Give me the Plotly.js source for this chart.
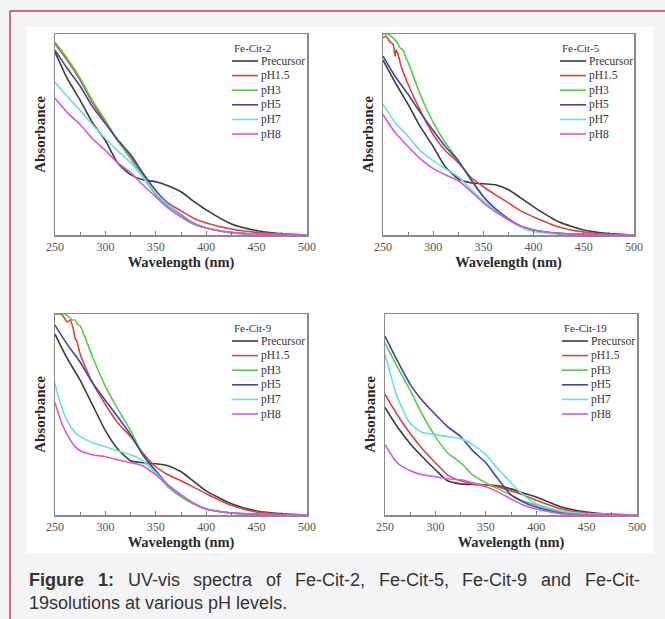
<!DOCTYPE html>
<html>
<head>
<meta charset="utf-8">
<script src="https://cdn.plot.ly/plotly-3.0.1.min.js"></script>
<style>html,body{margin:0;padding:0;background:#f4f3f5;}#chart{width:665px;height:619px;}</style>
</head>
<body>
<div id="chart"></div>
<script>
// ---------- DATA ----------
const seriesNames = ["Precursor", "pH1.5", "pH3", "pH5", "pH7", "pH8"];
const panelTitles = ["Fe-Cit-2", "Fe-Cit-5", "Fe-Cit-9", "Fe-Cit-19"];
const xTicks = [250, 300, 350, 400, 450, 500];
const wl = [250, 262, 275, 287, 300, 312, 325, 337, 350, 362, 375, 387, 400, 425, 450, 475, 500];

// Fe-Cit-2
const fc2_precursor = [0.91, 0.78, 0.67, 0.56, 0.47, 0.36, 0.30, 0.275, 0.265, 0.245, 0.215, 0.17, 0.125, 0.055, 0.022, 0.006, 0];
const fc2_ph15 = [0.95, 0.87, 0.77, 0.66, 0.56, 0.47, 0.39, 0.30, 0.22, 0.16, 0.12, 0.085, 0.06, 0.03, 0.013, 0.004, 0];
const fc2_ph3 = [0.96, 0.88, 0.78, 0.67, 0.57, 0.47, 0.38, 0.29, 0.20, 0.14, 0.09, 0.055, 0.035, 0.012, 0.005, 0.002, 0];
const fc2_ph5 = [0.92, 0.83, 0.74, 0.64, 0.555, 0.475, 0.40, 0.31, 0.22, 0.15, 0.10, 0.06, 0.035, 0.012, 0.004, 0.001, 0];
const fc2_ph7 = [0.76, 0.69, 0.62, 0.55, 0.48, 0.42, 0.36, 0.29, 0.21, 0.15, 0.095, 0.06, 0.035, 0.012, 0.004, 0.001, 0];
const fc2_ph8 = [0.68, 0.61, 0.55, 0.48, 0.42, 0.36, 0.31, 0.25, 0.19, 0.135, 0.09, 0.06, 0.035, 0.013, 0.005, 0.002, 0];

// Fe-Cit-5
const fc5_precursor = [0.87, 0.76, 0.65, 0.54, 0.44, 0.34, 0.28, 0.26, 0.255, 0.25, 0.225, 0.185, 0.14, 0.066, 0.025, 0.007, 0];
const fc5_ph15_x = [250, 253, 257, 260, 262, 263, 265, 268, 275, 287, 300, 312, 325, 337, 350, 362, 375, 387, 400, 425, 450, 475, 500];
const fc5_ph15 = [0.98, 0.99, 0.96, 0.95, 0.89, 0.92, 0.90, 0.84, 0.75, 0.62, 0.50, 0.42, 0.36, 0.29, 0.24, 0.20, 0.16, 0.12, 0.09, 0.04, 0.015, 0.004, 0];
const fc5_ph3_x = [250, 255, 258, 262, 265, 267, 270, 273, 275, 287, 300, 312, 325, 337, 350, 362, 375, 387, 400, 425, 450, 475, 500];
const fc5_ph3 = [1.0, 1.0, 0.99, 0.97, 0.95, 0.93, 0.92, 0.88, 0.86, 0.70, 0.56, 0.46, 0.37, 0.28, 0.19, 0.13, 0.08, 0.045, 0.025, 0.008, 0.003, 0.001, 0];
const fc5_ph5 = [0.89, 0.79, 0.70, 0.61, 0.52, 0.44, 0.37, 0.28, 0.19, 0.13, 0.08, 0.045, 0.025, 0.008, 0.003, 0.001, 0];
const fc5_ph7 = [0.65, 0.56, 0.49, 0.42, 0.37, 0.33, 0.29, 0.23, 0.17, 0.12, 0.075, 0.04, 0.016, 0.005, 0.002, 0.001, 0];
const fc5_ph8 = [0.60, 0.51, 0.44, 0.38, 0.33, 0.30, 0.27, 0.22, 0.16, 0.115, 0.075, 0.045, 0.025, 0.008, 0.003, 0.001, 0];

// Fe-Cit-9
const fc9_precursor = [0.90, 0.78, 0.67, 0.55, 0.42, 0.33, 0.27, 0.26, 0.255, 0.245, 0.215, 0.17, 0.12, 0.056, 0.02, 0.006, 0];
const fc9_ph15_x = [250, 255, 258, 262, 265, 268, 270, 272, 275, 287, 300, 312, 325, 337, 350, 362, 375, 387, 400, 425, 450, 475, 500];
const fc9_ph15 = [1.0, 1.0, 0.99, 0.96, 0.97, 0.93, 0.88, 0.86, 0.80, 0.66, 0.55, 0.46, 0.39, 0.31, 0.24, 0.20, 0.17, 0.14, 0.106, 0.048, 0.015, 0.004, 0];
const fc9_ph3_x = [250, 260, 265, 267, 270, 272, 275, 287, 300, 312, 325, 337, 350, 362, 375, 387, 400, 425, 450, 475, 500];
const fc9_ph3 = [1.0, 1.0, 0.98, 0.97, 0.97, 0.95, 0.94, 0.79, 0.64, 0.53, 0.42, 0.30, 0.21, 0.14, 0.09, 0.056, 0.03, 0.01, 0.004, 0.001, 0];
const fc9_ph5 = [0.945, 0.85, 0.76, 0.66, 0.57, 0.49, 0.40, 0.30, 0.22, 0.15, 0.10, 0.06, 0.03, 0.01, 0.004, 0.001, 0];
const fc9_ph7_x = [250, 255, 262, 270, 275, 287, 300, 312, 325, 337, 350, 362, 375, 387, 400, 425, 450, 475, 500];
const fc9_ph7 = [0.655, 0.56, 0.47, 0.41, 0.39, 0.36, 0.34, 0.32, 0.30, 0.27, 0.21, 0.15, 0.10, 0.06, 0.03, 0.01, 0.003, 0.001, 0];
const fc9_ph8_x = [250, 255, 262, 270, 275, 287, 300, 312, 325, 337, 350, 362, 375, 387, 400, 425, 450, 475, 500];
const fc9_ph8 = [0.56, 0.48, 0.40, 0.34, 0.32, 0.30, 0.29, 0.275, 0.26, 0.245, 0.20, 0.15, 0.10, 0.06, 0.03, 0.01, 0.003, 0.001, 0];

// Fe-Cit-19
const fc19_precursor = [0.535, 0.44, 0.355, 0.29, 0.225, 0.17, 0.155, 0.152, 0.15, 0.145, 0.13, 0.11, 0.09, 0.04, 0.015, 0.004, 0];
const fc19_ph15 = [0.60, 0.50, 0.405, 0.33, 0.26, 0.20, 0.17, 0.155, 0.15, 0.14, 0.12, 0.10, 0.073, 0.03, 0.01, 0.003, 0];
const fc19_ph3 = [0.855, 0.74, 0.62, 0.50, 0.39, 0.31, 0.26, 0.20, 0.16, 0.13, 0.10, 0.07, 0.05, 0.015, 0.005, 0.001, 0];
const fc19_ph5 = [0.89, 0.77, 0.65, 0.57, 0.50, 0.44, 0.39, 0.32, 0.26, 0.18, 0.10, 0.065, 0.04, 0.01, 0.004, 0.001, 0];
const fc19_ph7 = [0.80, 0.59, 0.455, 0.41, 0.40, 0.39, 0.38, 0.35, 0.30, 0.23, 0.16, 0.10, 0.056, 0.02, 0.006, 0.002, 0];
const fc19_ph8 = [0.35, 0.26, 0.22, 0.20, 0.19, 0.18, 0.175, 0.16, 0.14, 0.115, 0.08, 0.05, 0.03, 0.007, 0.002, 0.001, 0];

const captionLine1 = "Figure 1: UV-vis spectra of Fe-Cit-2, Fe-Cit-5, Fe-Cit-9 and Fe-Cit-";
const captionLine2 = "19solutions at various pH levels.";

// ---------- STYLE / LAYOUT ----------
const colors = ["#3c3c3c", "#d8453f", "#58cc48", "#4343a8", "#68e0e2", "#d45ad6"];
const W = 665, H = 619;
const panels = [
  {xs: [wl, wl, wl, wl, wl, wl], ys: [fc2_precursor, fc2_ph15, fc2_ph3, fc2_ph5, fc2_ph7, fc2_ph8], px: [55, 307], py: [34, 235]},
  {xs: [wl, fc5_ph15_x, fc5_ph3_x, wl, wl, wl], ys: [fc5_precursor, fc5_ph15, fc5_ph3, fc5_ph5, fc5_ph7, fc5_ph8], px: [383, 634], py: [34, 235]},
  {xs: [wl, fc9_ph15_x, fc9_ph3_x, wl, fc9_ph7_x, fc9_ph8_x], ys: [fc9_precursor, fc9_ph15, fc9_ph3, fc9_ph5, fc9_ph7, fc9_ph8], px: [55, 307], py: [314, 515]},
  {xs: [wl, wl, wl, wl, wl, wl], ys: [fc19_precursor, fc19_ph15, fc19_ph3, fc19_ph5, fc19_ph7, fc19_ph8], px: [385, 637], py: [314, 515]}
];

const serif = "Liberation Serif, Times New Roman, serif";
const sans = "Liberation Sans, Arial, sans-serif";
const fx = p => p / W;
const fy = p => 1 - p / H;

const traces = [];
const layout = {
  width: W, height: H,
  margin: {l: 0, r: 0, t: 0, b: 0},
  paper_bgcolor: "#f4f3f5",
  plot_bgcolor: "rgba(0,0,0,0)",
  showlegend: false,
  shapes: [
    {type: "rect", xref: "paper", yref: "paper", x0: fx(27), x1: fx(653), y0: fy(553), y1: fy(27), fillcolor: "#ffffff", line: {width: 0}, layer: "below"},
    {type: "line", xref: "paper", yref: "paper", x0: fx(10), x1: 1, y0: fy(11), y1: fy(11), line: {color: "#c2365e", width: 1.5}},
    {type: "line", xref: "paper", yref: "paper", x0: fx(10), x1: fx(10), y0: fy(11), y1: 0, line: {color: "#c2365e", width: 1.5}}
  ],
  annotations: []
};

panels.forEach((p, i) => {
  const n = i + 1;
  const xa = n === 1 ? "x" : "x" + n;
  const ya = n === 1 ? "y" : "y" + n;
  const xk = n === 1 ? "xaxis" : "xaxis" + n;
  const yk = n === 1 ? "yaxis" : "yaxis" + n;
  for (let s = 0; s < seriesNames.length; s++) {
    traces.push({
      type: "scatter", mode: "lines", name: seriesNames[s],
      x: p.xs[s], y: p.ys[s], xaxis: xa, yaxis: ya,
      line: {color: colors[s], width: 1.6, shape: "spline", smoothing: 0.6},
      hoverinfo: "skip"
    });
  }
  layout[xk] = {
    domain: [fx(p.px[0]), fx(p.px[1])], anchor: ya, range: [250, 500],
    tickvals: xTicks, ticktext: xTicks.map(String),
    ticks: "inside", ticklen: 4, tickwidth: 1, tickcolor: "#777",
    minor: {dtick: 25, tick0: 275, ticks: "inside", ticklen: 3, tickcolor: "#777", showgrid: false},
    showgrid: false, zeroline: false, showline: true, mirror: true, linecolor: "#8a8a8a", linewidth: 1.5,
    tickfont: {family: serif, size: 12, color: "#555"},
    title: {text: "<b>Wavelength (nm)</b>", font: {family: serif, size: 14.5, color: "#2a2a2a"}, standoff: 2}
  };
  layout[yk] = {
    domain: [fy(p.py[1]), fy(p.py[0])], anchor: xa, range: [0, 1],
    showticklabels: false, ticks: "", showgrid: false, zeroline: false,
    showline: true, mirror: true, linecolor: "#8a8a8a", linewidth: 1.5,
    title: {text: "<b>Absorbance</b>", font: {family: serif, size: 15, color: "#2a2a2a"}, standoff: 4}
  };
  // manual legend
  const lx = p.px[0] + 177;
  const ly0 = p.py[0] + 14;
  layout.annotations.push({xref: "paper", yref: "paper", x: fx(lx), y: fy(ly0), xanchor: "left", yanchor: "middle",
    text: panelTitles[i], showarrow: false, font: {family: serif, size: 11, color: "#333"}});
  for (let s = 0; s < seriesNames.length; s++) {
    const yy = ly0 + 13 + s * 14.6;
    layout.shapes.push({type: "line", xref: "paper", yref: "paper", x0: fx(lx), x1: fx(lx + 26), y0: fy(yy), y1: fy(yy), line: {color: colors[s], width: 1.6}});
    layout.annotations.push({xref: "paper", yref: "paper", x: fx(lx + 27), y: fy(yy), xanchor: "left", yanchor: "middle",
      text: seriesNames[s], showarrow: false, font: {family: serif, size: 11.5, color: "#333"}});
  }
});

// caption, justified first line
const capSize = 18;
const ctx = document.createElement("canvas").getContext("2d");
function tw(t, bold) { ctx.font = (bold ? "bold " : "") + capSize + "px 'Liberation Sans'"; return ctx.measureText(t).width; }
const words = captionLine1.split(" ");
const boldCount = 2;
const widths = words.map((w, k) => tw(w, k < boldCount));
const left = 27, right = 638;
const gap = (right - left - widths.reduce((a, b) => a + b, 0)) / (words.length - 1);
let cx = left;
words.forEach((w, k) => {
  layout.annotations.push({xref: "paper", yref: "paper", x: fx(cx), y: fy(580), xanchor: "left", yanchor: "middle",
    text: k < boldCount ? "<b>" + w + "</b>" : w, showarrow: false, font: {family: sans, size: capSize, color: "#333"}});
  cx += widths[k] + gap;
});
layout.annotations.push({xref: "paper", yref: "paper", x: fx(left), y: fy(603), xanchor: "left", yanchor: "middle",
  text: captionLine2, showarrow: false, font: {family: sans, size: capSize, color: "#333"}});

Plotly.newPlot("chart", traces, layout, {staticPlot: true, displayModeBar: false});
</script>
</body>
</html>
